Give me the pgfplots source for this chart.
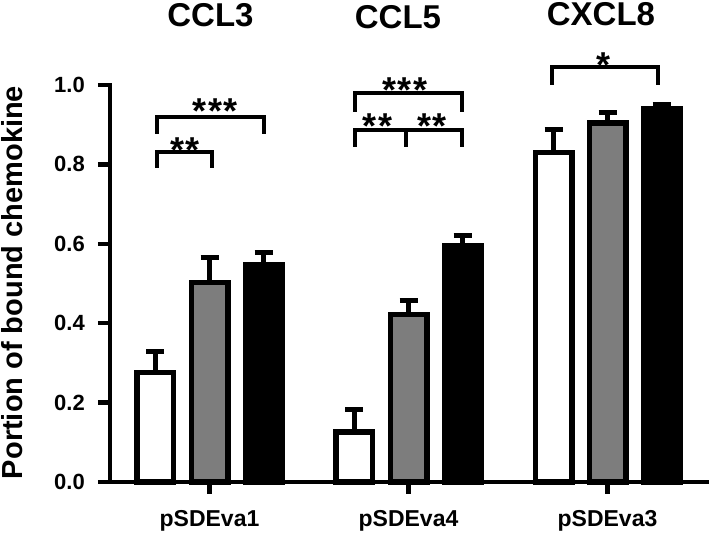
\documentclass[border=0pt]{standalone}
\usepackage{fontspec}
\setmainfont{Liberation Sans}
\usepackage{pgfplots}
\pgfplotsset{compat=1.18}
\definecolor{bargray}{RGB}{125,125,125}
\newcommand{\tfont}{\fontsize{33}{37}\selectfont\bfseries}
\newcommand{\sfont}{\fontsize{36}{40}\selectfont\bfseries}
\pgfplotsset{
  mybar/.style={ybar, bar width=36.5pt, bar shift=0pt, draw=black, line width=5.5pt,
    error bars/y dir=plus, error bars/y explicit,
    error bars/error bar style={line width=5pt, black},
    error bars/error mark options={line width=5pt, mark size=9pt, black, rotate=90}},
}
\begin{document}
\begin{tikzpicture}
\path[use as bounding box] (-110pt,-56pt) rectangle (599pt,482pt);
\begin{axis}[
  at={(0pt,0pt)}, anchor=south west,
  scale only axis, width=599pt, height=397pt,
  xmin=-0.5, xmax=2.51, ymin=0, ymax=1,
  axis x line=bottom, axis y line=left,
  axis line style={-, line width=4.5pt, line cap=rect},
  xtick={0,1,2}, xticklabels={pSDEva1,pSDEva4,pSDEva3},
  ytick={0,0.2,0.4,0.6,0.8,1},
  tick align=outside, major tick length=12pt,
  tick style={line width=4.5pt, black},
  yticklabel style={font=\fontsize{22}{26}\selectfont\bfseries, anchor=east, inner sep=0pt, xshift=-13pt,
    /pgf/number format/fixed, /pgf/number format/fixed zerofill,
    /pgf/number format/precision=1, /pgf/number format/assume math mode=true},
  xticklabel style={font=\fontsize{23}{26}\selectfont\bfseries, anchor=base, inner sep=0pt, yshift=-33pt},
  clip=false,
]
% white bars (plotted at group -0.2714)
\addplot[fill=white, mybar]
  coordinates {(-0.2714,0.276) +- (0,0.052) (0.7286,0.126) +- (0,0.057) (1.7286,0.830) +- (0,0.059)};
% gray bars
\addplot[fill=bargray, mybar]
  coordinates {(0,0.5025) +- (0,0.064) (1,0.422) +- (0,0.035) (2,0.904) +- (0,0.027)};
% black bars (group +0.2714)
\addplot[fill=black, mybar]
  coordinates {(0.2714,0.547) +- (0,0.031) (1.2714,0.596) +- (0,0.025) (2.2714,0.939) +- (0,0.013)};
% significance brackets
\draw[line width=4pt] (axis cs:-0.265,0.877) -- (axis cs:-0.265,0.920) -- (axis cs:0.274,0.920) -- (axis cs:0.274,0.877);
\draw[line width=4pt] (axis cs:-0.265,0.791) -- (axis cs:-0.265,0.832) -- (axis cs:0.015,0.832) -- (axis cs:0.015,0.791);
\draw[line width=4pt] (axis cs:0.729,0.933) -- (axis cs:0.729,0.979) -- (axis cs:1.271,0.979) -- (axis cs:1.271,0.933);
\draw[line width=4pt] (axis cs:0.729,0.845) -- (axis cs:0.729,0.887) -- (axis cs:1.271,0.887) -- (axis cs:1.271,0.845);
\draw[line width=4pt] (axis cs:0.985,0.845) -- (axis cs:0.985,0.887);
\draw[line width=4pt] (axis cs:1.72,1.0) -- (axis cs:1.72,1.046) -- (axis cs:2.255,1.046) -- (axis cs:2.255,1.0);
\node[anchor=base, inner sep=0pt] at (axis cs:0.028,0.9025) {\sfont *\kern1.5pt*\kern1.5pt*};
\node[anchor=base, inner sep=0pt] at (axis cs:-0.123,0.804) {\sfont *\kern1.5pt*};
\node[anchor=base, inner sep=0pt] at (axis cs:0.98,0.956) {\sfont *\kern1.5pt*\kern1.5pt*};
\node[anchor=base, inner sep=0pt] at (axis cs:0.844,0.864) {\sfont *\kern1.5pt*};
\node[anchor=base, inner sep=0pt] at (axis cs:1.117,0.864) {\sfont *\kern1.5pt*};
\node[anchor=base, inner sep=0pt] at (axis cs:1.98,1.018) {\sfont *};
% titles
\node[anchor=base, inner sep=0pt] at (axis cs:0.005,1.1474) {\tfont CCL3};
\node[anchor=base, inner sep=0pt] at (axis cs:0.947,1.1431) {\tfont CCL5};
\node[anchor=base, inner sep=0pt] at (axis cs:1.967,1.151) {\tfont CXCL8};
% y label
\node[rotate=90, anchor=center, inner sep=0pt, font=\fontsize{29}{33}\selectfont\bfseries] at ([xshift=-98pt]axis cs:-0.5,0.5025) {Portion of bound chemokine};
\end{axis}
\end{tikzpicture}
\end{document}
